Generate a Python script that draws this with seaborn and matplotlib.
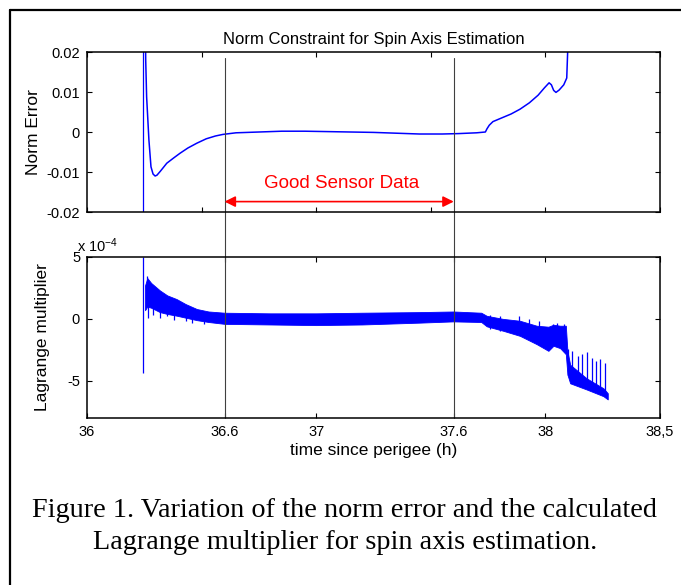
import matplotlib
matplotlib.use("Agg")
import seaborn as sns
import matplotlib.pyplot as plt
from matplotlib.lines import Line2D

# norm error curve (time in h, error)
norm_t = [36.254, 36.256, 36.260, 36.270, 36.279, 36.288, 36.297, 36.305, 36.32,
          36.348, 36.38, 36.406, 36.44, 36.479, 36.52, 36.56, 36.593, 36.65,
          36.75, 36.85, 36.95, 37.05, 37.15, 37.25, 37.35, 37.45, 37.55, 37.62,
          37.70, 37.738, 37.745, 37.755, 37.771, 37.80, 37.85, 37.889, 37.93,
          37.968, 37.995, 38.016, 38.026, 38.036, 38.046, 38.06, 38.08, 38.093,
          38.097, 38.099]
norm_err = [0.030, 0.018, 0.0088, -0.002, -0.0087, -0.0105, -0.0110, -0.0108, -0.0098,
            -0.0078, -0.0064, -0.0053, -0.0040, -0.0028, -0.0017, -0.0010, -0.0006, -0.0002,
            0.0000, 0.0002, 0.0002, 0.0001, 0.0000, -0.0001, -0.0003, -0.0005, -0.0005, -0.0004,
            -0.0002, 0.0000, 0.0008, 0.0017, 0.0026, 0.0033, 0.0045, 0.0057, 0.0073,
            0.0092, 0.0110, 0.0123, 0.0118, 0.0104, 0.0099, 0.0105, 0.0118, 0.0135,
            0.020, 0.030]
norm_jump_t = 36.246

# Lagrange multiplier band (units of 1e-4)
band_t = [36.253, 36.263, 36.28, 36.318, 36.35, 36.391, 36.43, 36.479, 36.53, 36.60,
          36.8, 37.0, 37.2, 37.453, 37.598, 37.72, 37.744, 37.816, 37.889, 37.962,
          38.013, 38.035, 38.064, 38.089, 38.096, 38.108, 38.180, 38.253, 38.272]
band_top = [2.7, 3.3, 2.9, 2.3, 1.9, 1.6, 1.2, 0.8, 0.6, 0.5,
            0.45, 0.45, 0.5, 0.55, 0.6, 0.5, 0.25, 0.0, -0.15, -0.55,
            -0.63, -0.47, -0.55, -0.55, -2.6, -3.7, -4.8, -5.6, -6.0]
band_bot = [0.7, 1.0, 0.9, 0.55, 0.4, 0.26, 0.1, -0.1, -0.25, -0.4,
            -0.45, -0.5, -0.45, -0.3, -0.2, -0.25, -0.6, -0.96, -1.37, -2.04,
            -2.58, -2.17, -2.36, -2.85, -4.5, -5.2, -5.7, -6.24, -6.5]

# isolated spikes of the multiplier
spike_t = [36.246, 36.262, 36.265, 36.29, 36.318, 36.35, 36.38, 36.43, 36.46, 36.51,
           37.76, 37.80, 37.884, 37.93, 37.97, 38.035, 38.05, 38.08,
           38.10, 38.115, 38.14, 38.16, 38.18, 38.205, 38.22, 38.24, 38.26]
spike_lo = [-4.35, 2.0, 0.1, 0.35, 0.05, 0.25, -0.1, -0.15, -0.3, -0.4,
            -0.8, -1.0, -1.0, -1.5, -1.8, -1.5, -1.8, -2.0,
            -4.5, -4.8, -5.0, -5.2, -5.4, -5.6, -5.7, -5.9, -6.2]
spike_hi = [5.0, 3.5, 1.5, 1.5, 1.0, 1.0, 0.8, 0.6, 0.5, 0.4,
            0.3, 0.2, 0.26, -0.01, -0.2, -0.39, -0.3, -0.4,
            -2.45, -2.58, -2.98, -2.85, -2.71, -3.12, -3.4, -3.26, -3.6]

good_start = 36.6
good_end = 37.6

top_ticks = [36, 36.5, 37, 37.5, 38, 38.5]
bottom_ticks = [36, 36.6, 37, 37.6, 38, 38.5]
bottom_labels = ["36", "36.6", "37", "37.6", "38", "38,5"]
norm_ticks = [-0.02, -0.01, 0, 0.01, 0.02]
norm_labels = ["-0.02", "-0.01", "0", "0.01", "0.02"]
lag_ticks = [-5, 0, 5]
lag_labels = ["-5", "0", "5"]

sns.set_theme(style="ticks")
plt.rcParams["font.family"] = ["Liberation Sans", "DejaVu Sans"]
plt.rcParams["mathtext.fontset"] = "custom"
plt.rcParams["mathtext.rm"] = "Liberation Sans"
plt.rcParams["mathtext.it"] = "Liberation Sans"
plt.rcParams["text.color"] = "black"
plt.rcParams["axes.labelcolor"] = "black"

fig = plt.figure(figsize=(6.81, 5.85), dpi=100)
fig.patch.set_facecolor("white")
ax1 = fig.add_axes([0.1278, 0.6376, 0.8414, 0.2735])
ax2 = fig.add_axes([0.1278, 0.2855, 0.8414, 0.2752])

blue = "#0000ff"
guide = "#404040"

# upper panel
ax1.axvline(norm_jump_t, color=blue, lw=0.9)
sns.lineplot(x=norm_t, y=norm_err, sort=False, estimator=None, color=blue, lw=1.1, ax=ax1)
ax1.set_xlim(36, 38.5)
ax1.set_ylim(-0.02, 0.02)
ax1.set_xticks(top_ticks)
ax1.set_xticklabels([])
ax1.set_yticks(norm_ticks)
ax1.set_yticklabels(norm_labels)
ax1.set_title("Norm Constraint for Spin Axis Estimation", fontsize=12, pad=6, color="black")
ax1.set_ylabel("Norm Error", fontsize=12.5, labelpad=4)
for x in [good_start, good_end]:
    ax1.axvline(x, ymin=-0.285, ymax=0.96, color=guide, lw=0.8, clip_on=False)
ax1.annotate("", xy=(good_start, -0.0174), xytext=(good_end, -0.0174),
             arrowprops=dict(arrowstyle="<|-|>", color="red", lw=1.2, mutation_scale=16,
                             shrinkA=0, shrinkB=0))
ax1.text((good_start + good_end) / 2 + 0.01, -0.0128, "Good Sensor Data", color="red",
         fontsize=13.5, ha="center", va="center")

# lower panel
ax2.fill_between(band_t, band_bot, band_top, color=blue, lw=0.6, edgecolor=blue)
ax2.vlines(spike_t, spike_lo, spike_hi, color=blue, lw=0.9)
for x in [good_start, good_end]:
    ax2.axvline(x, color=guide, lw=0.8)
ax2.set_xlim(36, 38.5)
ax2.set_ylim(-8, 5)
ax2.set_xticks(bottom_ticks)
ax2.set_xticklabels(bottom_labels)
ax2.set_yticks(lag_ticks)
ax2.set_yticklabels(lag_labels)
ax2.set_ylabel("Lagrange multiplier", fontsize=12.5, labelpad=12)
ax2.set_xlabel("time since perigee (h)", fontsize=12.5, labelpad=3)
ax2.text(-0.018, 1.015, r"x 10$^{-4}$", transform=ax2.transAxes, fontsize=10.5,
         ha="left", va="bottom")

for ax in [ax1, ax2]:
    ax.tick_params(direction="in", length=3.5, width=0.8, top=True, right=True,
                   labelsize=10.5, colors="black", pad=5)
    for s in ax.spines.values():
        s.set_visible(True)
        s.set_linewidth(1.1)
        s.set_color("black")

# caption
fig.text(0.5066, 0.10, "Figure 1. Variation of the norm error and the calculated\n"
         "Lagrange multiplier for spin axis estimation.",
         family=["Liberation Serif", "DejaVu Serif"], fontsize=20.3, ha="center", va="center",
         multialignment="center", linespacing=1.35, color="black")

# outer frame (top and left visible)
fig.add_artist(Line2D([10 / 681, 1.0], [1 - 10 / 585, 1 - 10 / 585], color="black", lw=1.6,
                      transform=fig.transFigure))
fig.add_artist(Line2D([10 / 681, 10 / 681], [1 - 10 / 585, 0.0], color="black", lw=1.6,
                      transform=fig.transFigure))

fig.savefig("out.png", dpi=100)
plt.close(fig)
